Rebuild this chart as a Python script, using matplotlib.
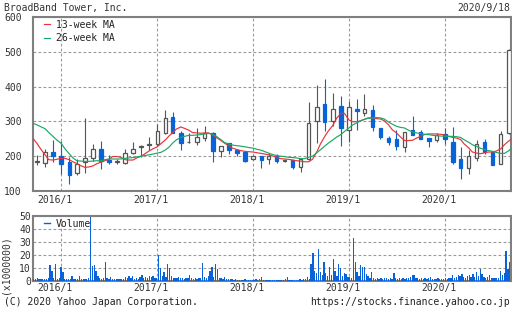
import numpy as np
import pandas as pd
import matplotlib
matplotlib.use('Agg')
import matplotlib.pyplot as plt
from matplotlib.lines import Line2D
from matplotlib.transforms import ScaledTranslation

plt.rcParams['font.family'] = ['DejaVu Sans Mono']
plt.rcParams['font.size'] = 7

# monthly candles, Oct 2015 .. Sep 2020
months = pd.date_range('2015-10-01', periods=60, freq='MS')
opens = [182, 180, 213,
         200, 184, 151, 184, 194, 220, 189, 184, 181, 210, 226, 231,
         234, 268, 312, 268, 240, 242, 251, 268, 216, 237, 219, 212,
         192, 200, 192, 200, 187, 189, 170, 192, 302, 351, 301, 343,
         274, 337, 325, 334, 280, 252, 248, 227, 274, 269, 252, 246,
         265, 242, 192, 167, 195, 241, 212, 178, 267]
closes = [185, 213, 201,
          177, 147, 179, 196, 220, 187, 184, 185, 210, 222, 228, 236,
          273, 309, 268, 239, 241, 254, 268, 216, 229, 217, 209, 186,
          200, 189, 200, 186, 188, 170, 193, 294, 340, 299, 337, 282,
          340, 330, 337, 285, 254, 242, 229, 269, 262, 250, 243, 260,
          248, 183, 165, 200, 235, 212, 176, 264, 506]
highs = [203, 222, 247,
         244, 198, 193, 310, 235, 244, 203, 193, 222, 240, 231, 256,
         292, 333, 328, 271, 268, 280, 287, 270, 230, 238, 220, 213,
         202, 201, 208, 205, 192, 189, 194, 357, 406, 422, 382, 372,
         358, 365, 379, 346, 280, 258, 276, 269, 316, 276, 252, 266,
         281, 284, 227, 217, 247, 248, 212, 273, 509]
lows = [175, 168, 184,
        150, 120, 145, 151, 187, 164, 177, 179, 177, 205, 198, 219,
        229, 263, 266, 218, 238, 232, 244, 184, 198, 206, 201, 184,
        189, 167, 179, 181, 183, 162, 155, 190, 238, 271, 288, 228,
        242, 275, 315, 271, 250, 231, 219, 211, 262, 250, 226, 240,
        235, 179, 135, 150, 186, 205, 174, 178, 264]

ma_dates = pd.date_range('2015-09-15', periods=121, freq='SMS')
ma13 = [252, 237, 221, 204, 190, 189, 191, 194, 194, 190, 184, 179, 173, 168, 169, 172,
        178, 183, 187, 191, 199, 199, 197, 190, 189, 189, 195, 200, 207, 215, 221, 227,
        236, 247, 258, 268, 278, 284, 280, 275, 268, 267, 266, 267, 267, 261, 253, 245,
        237, 230, 223, 219, 216, 214, 213, 212, 210, 208, 206, 204, 201, 197, 193, 192,
        191, 189, 187, 186, 184, 184, 191, 213, 236, 257, 273, 289, 309, 323, 323, 304,
        299, 299, 302, 306, 310, 310, 308, 307, 302, 290, 276, 267, 256, 245, 245, 246,
        252, 257, 262, 264, 264, 264, 263, 261, 257, 254, 252, 248, 235, 224, 212, 209,
        207, 210, 212, 212, 215, 221, 233, 244, 252]
ma26 = [295, 290, 285, 279, 268, 257, 247, 237, 222, 207, 195, 187, 186, 185, 185, 186,
        187, 187, 190, 192, 192, 192, 192, 194, 195, 196, 198, 200, 202, 204, 206, 209,
        211, 218, 226, 238, 247, 254, 257, 260, 260, 261, 262, 264, 266, 262, 257, 247,
        239, 235, 232, 230, 229, 227, 225, 223, 220, 217, 213, 209, 205, 202, 200, 199,
        197, 196, 195, 193, 193, 197, 200, 210, 219, 229, 238, 247, 255, 262, 271, 281,
        290, 296, 302, 306, 309, 310, 311, 310, 307, 298, 292, 286, 283, 281, 275, 269,
        267, 265, 263, 262, 260, 259, 258, 257, 257, 257, 256, 254, 247, 240, 233, 228,
        223, 219, 216, 214, 211, 208, 208, 216, 226]

# weekly volume (x1,000,000)
weeks = pd.date_range('2015-09-18', periods=262, freq='W-FRI')
volume = [1.5, 1.2, 2.0, 1.4, 1.2, 1.8, 1.3, 1.5, 2.5, 12.5,
          8.0, 2.0, 13.0, 1.8, 2.2, 11.0, 7.0, 1.5, 1.4, 1.6,
          1.3, 3.6, 1.5, 1.2, 1.4, 3.6, 1.5, 1.3, 1.2, 1.6,
          2.0, 49.0, 11.5, 12.0, 8.0, 4.0, 2.5, 1.8, 2.2, 15.0,
          2.0, 1.6, 3.0, 1.5, 1.2, 1.4, 1.3, 1.2, 1.5, 1.4,
          3.0, 2.0, 4.0, 2.5, 3.5, 1.8, 2.0, 1.6, 3.0, 4.5,
          2.5, 3.2, 2.0, 4.0, 2.8, 3.5, 2.0, 2.5, 20.0, 10.0,
          4.0, 7.0, 3.0, 13.0, 10.0, 3.5, 2.5, 2.0, 2.5, 3.0,
          2.0, 2.5, 1.8, 2.2, 2.0, 5.0, 2.0, 1.8, 2.5, 1.6,
          2.0, 2.4, 14.0, 3.0, 2.2, 3.5, 8.0, 11.0, 3.0, 13.0,
          9.5, 2.5, 2.0, 1.8, 3.0, 1.5, 1.2, 1.3, 1.2, 1.0,
          1.2, 1.0, 1.1, 1.0, 1.0, 1.2, 1.0, 0.9, 1.0, 1.1,
          1.0, 1.3, 1.0, 1.2, 3.0, 1.0, 0.9, 1.0, 0.8, 1.0,
          0.9, 1.0, 0.8, 0.9, 1.0, 0.8, 1.0, 1.2, 3.0, 1.0,
          0.9, 1.0, 1.1, 0.9, 1.0, 1.2, 1.0, 1.5, 1.2, 3.0,
          1.5, 13.0, 21.5, 7.5, 6.0, 25.0, 7.0, 4.5, 14.6, 6.0,
          4.0, 11.0, 4.5, 17.0, 8.0, 4.0, 13.0, 10.0, 4.0, 6.0,
          5.6, 3.0, 3.0, 2.0, 33.0, 14.6, 7.0, 4.0, 12.0, 11.0,
          11.0, 5.6, 3.5, 2.5, 7.0, 2.0, 1.8, 2.0, 1.5, 2.5,
          1.8, 2.0, 2.5, 1.6, 2.0, 1.8, 6.0, 2.0, 1.5, 2.0,
          1.8, 2.2, 1.5, 2.0, 2.5, 3.0, 5.0, 4.4, 2.5, 2.0,
          1.8, 2.0, 1.5, 2.2, 1.6, 2.0, 3.0, 1.5, 1.8, 1.6,
          2.0, 1.5, 1.8, 1.6, 2.0, 1.5, 2.5, 2.0, 4.4, 2.5,
          3.0, 5.0, 3.5, 5.6, 3.0, 2.5, 3.5, 5.0, 3.0, 5.6,
          3.0, 7.0, 3.5, 9.5, 5.6, 3.0, 2.5, 3.0, 4.4, 2.5,
          2.0, 2.5, 2.2, 2.0, 8.0, 4.4, 6.0, 23.0, 9.5, 14.6,
          10.0, 7.0]

year_ticks = pd.to_datetime(['2016-01-01', '2017-01-01', '2018-01-01', '2019-01-01', '2020-01-01'])
year_labels = ['2016/1', '2017/1', '2018/1', '2019/1', '2020/1']

BLUE = '#0a62d8'
GRAY = '#555555'
RED = '#e8333a'
GREEN = '#1aa866'
FRAME = '#7f7f7f'
TXT = '#333333'

fig = plt.figure(figsize=(5.12, 3.10), dpi=100)
ax = fig.add_axes([33 / 512, 1 - 191 / 310, 478 / 512, 174 / 310])
axv = fig.add_axes([33 / 512, 1 - 281 / 310, 478 / 512, 65 / 310], sharex=ax)

o = np.array(opens, float)
c = np.array(closes, float)
h = np.array(highs, float)
l = np.array(lows, float)
up = c >= o
bottom = np.minimum(o, c)
height = np.maximum(np.abs(c - o), 1.5)

ax.vlines(months[up], l[up], h[up], color=GRAY, lw=0.8, zorder=2)
ax.vlines(months[~up], l[~up], h[~up], color=BLUE, lw=0.8, zorder=2)
ax.bar(months[up], height[up], bottom=bottom[up], width=13, color='white',
       edgecolor=GRAY, lw=0.9, zorder=3)
ax.bar(months[~up], height[~up], bottom=bottom[~up], width=13, color=BLUE,
       edgecolor=BLUE, lw=0.9, zorder=3)

ax.plot(ma_dates, ma13, color=RED, lw=0.85, zorder=4, label='13-week MA')
ax.plot(ma_dates, ma26, color=GREEN, lw=0.85, zorder=4, label='26-week MA')

axv.bar(weeks, volume, width=5, color=BLUE, lw=0, zorder=3)

ax.set_ylim(100, 600)
ax.set_yticks([100, 200, 300, 400, 500, 600])
axv.set_ylim(0, 50)
axv.set_yticks([0, 10, 20, 30, 40, 50])
ax.set_xlim(pd.Timestamp('2015-09-16'), pd.Timestamp('2020-09-09'))
ax.set_xticks(year_ticks)
ax.set_xticklabels(year_labels)

for a, ypad, xpad in [(ax, 8, 3.0), (axv, 1.5, 1.5)]:
    for s in a.spines.values():
        s.set_color(FRAME)
        s.set_linewidth(1.5)
    a.grid(True, color='#999999', lw=0.8, linestyle=(0, (2.5, 2)), zorder=0)
    a.set_axisbelow(True)
    a.tick_params(axis='y', length=0, pad=ypad, labelcolor=TXT, labelsize=7)
    a.tick_params(axis='x', length=0, pad=xpad, labelcolor=TXT, labelsize=7)
    a.tick_params(axis='x', labelbottom=True)
    shift = ScaledTranslation(-0.06, 0, fig.dpi_scale_trans)
    for lbl in a.get_xticklabels():
        lbl.set_transform(lbl.get_transform() + shift)

ax.legend(loc='upper left', bbox_to_anchor=(0.022, 0.985), frameon=False,
          handlelength=0.7, handletextpad=0.6, labelspacing=0.35,
          borderpad=0, borderaxespad=0, fontsize=7, labelcolor='#222222')
axv.legend(handles=[Line2D([], [], color=BLUE, lw=1.0)], labels=['Volume'],
           loc='upper left', bbox_to_anchor=(0.022, 0.96), frameon=False,
           handlelength=0.7, handletextpad=0.6, borderpad=0, borderaxespad=0,
           fontsize=7, labelcolor='#222222')

fig.text(4 / 512, 1 - 8 / 310, 'BroadBand Tower, Inc.', ha='left', va='center', color=TXT, fontsize=7)
fig.text(510 / 512, 1 - 8 / 310, '2020/9/18', ha='right', va='center', color=TXT, fontsize=7)
fig.text(6 / 512, 1 - 265 / 310, '(x1000000)', rotation=90, ha='center', va='center', color=TXT, fontsize=7)
fig.text(4 / 512, 1 - 302 / 310, '(C) 2020 Yahoo Japan Corporation.', ha='left', va='center', color='#222222', fontsize=7)
fig.text(510 / 512, 1 - 302 / 310, 'https://stocks.finance.yahoo.co.jp', ha='right', va='center', color='#222222', fontsize=7)

fig.savefig('out.png', dpi=100, facecolor='white')
